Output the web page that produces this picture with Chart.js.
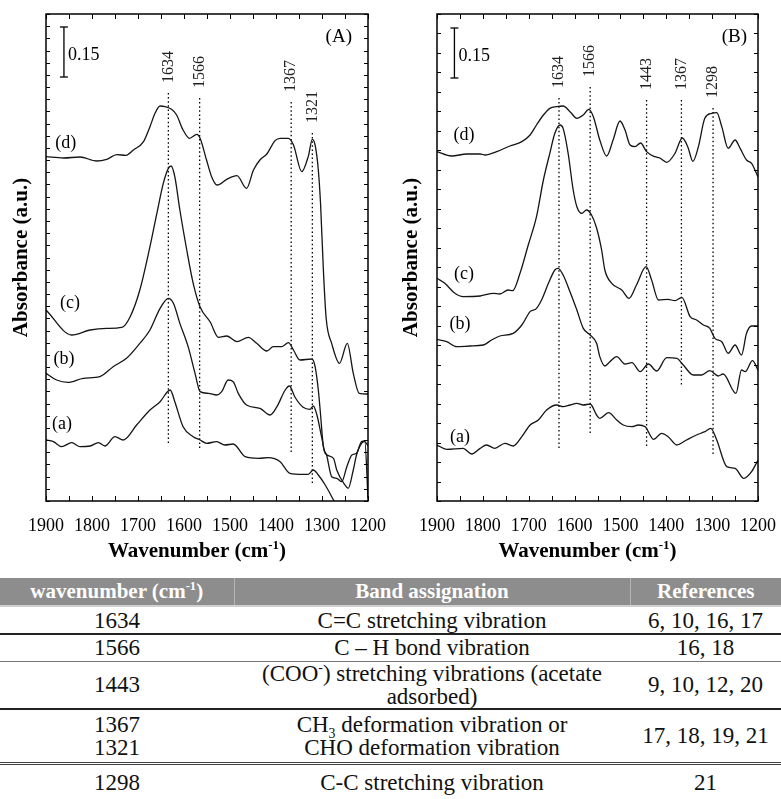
<!DOCTYPE html>
<html>
<head>
<meta charset="utf-8">
<script src="https://cdn.jsdelivr.net/npm/chart.js@4.4.1/dist/chart.umd.min.js"></script>
<style>
  html, body { margin: 0; padding: 0; background: #fff; width: 781px; height: 799px; overflow: hidden; }
  #wrap { position: relative; width: 781px; height: 799px; font-family: 'Liberation Serif', 'Times New Roman', serif; }
  #chartA { position: absolute; left: 0; top: 0; }
  #chartB { position: absolute; left: 390px; top: 0; }
  #tbl { position: absolute; left: 0; top: 578px; width: 781px; border-collapse: collapse; table-layout: fixed; color: #111; }
  #tbl th { background: #8d8d8d; color: #fff; font-weight: bold; font-size: 21px; height: 27px; padding: 0; text-align: center; white-space: nowrap; }
  #tbl th + th { border-left: 1px solid #b5b5b5; }
  #tbl td { font-size: 23px; line-height: 23px; text-align: center; padding: 0; vertical-align: middle; white-space: nowrap; }
  #tbl sup, #tbl sub { font-size: 60%; line-height: 0; }
  #tbl thead tr { border-bottom: 2px solid #d0d0d0; }
  .r1 { height: 28px; border-bottom: 2px solid #222; }
  .r2 { height: 27px; border-bottom: 1px solid #777; }
  .r3 { height: 48px; border-bottom: 2px solid #222; }
  .r4 { height: 54px; border-bottom: 3px double #444; }
  .r5 { height: 37px; }
</style>
</head>
<body>
<div id="wrap">
  <canvas id="chartA" width="390" height="578"></canvas>
  <canvas id="chartB" width="391" height="578"></canvas>
  <table id="tbl">
    <colgroup><col style="width:234px"><col style="width:396px"><col style="width:151px"></colgroup>
    <thead><tr><th>wavenumber (cm<sup>-1</sup>)</th><th>Band assignation</th><th>References</th></tr></thead>
    <tbody>
      <tr class="r1"><td>1634</td><td>C=C stretching vibration</td><td>6, 10, 16, 17</td></tr>
      <tr class="r2"><td>1566</td><td>C &ndash; H bond vibration</td><td>16, 18</td></tr>
      <tr class="r3"><td>1443</td><td>(COO<sup>-</sup>) stretching vibrations (acetate<br>adsorbed)</td><td>9, 10, 12, 20</td></tr>
      <tr class="r4"><td>1367<br>1321</td><td>CH<sub>3</sub> deformation vibration or<br>CHO deformation vibration</td><td>17, 18, 19, 21</td></tr>
      <tr class="r5"><td>1298</td><td>C-C stretching vibration</td><td>21</td></tr>
    </tbody>
  </table>
</div>
<script>
// ---- axes ----
const WN_MIN = 1200, WN_MAX = 1900;
const xTickLabels = [1900, 1800, 1700, 1600, 1500, 1400, 1300, 1200];
const Y_MAX = 1.461;
const scaleBarValue = 0.15;

// ---- panel A : wavenumber / absorbance per spectrum ----
const wnAa = [1900,1884,1866,1844,1826,1804,1786,1772,1750,1732,1703,1674,1652,1630,1620,1602,1580,1565,1551,1529,1511,1493,1467,1438,1417,1391,1370,1341,1330,1319,1308,1293,1275,1261];
const absAa = [0.183,0.178,0.163,0.175,0.163,0.165,0.175,0.165,0.193,0.183,0.228,0.273,0.298,0.333,0.298,0.223,0.193,0.183,0.173,0.178,0.168,0.171,0.133,0.128,0.130,0.118,0.083,0.080,0.080,0.093,0.078,0.048,0.003,-0.033];

const wnAb = [1900,1877,1852,1819,1783,1754,1725,1696,1674,1652,1634,1623,1609,1591,1576,1565,1547,1529,1518,1504,1493,1482,1464,1435,1413,1398,1380,1371,1359,1341,1326,1319,1311,1301,1293,1275,1268,1250,1243,1232,1225,1214,1207,1200];
const absAb = [0.383,0.363,0.356,0.368,0.373,0.403,0.428,0.473,0.513,0.578,0.608,0.593,0.533,0.463,0.383,0.328,0.323,0.318,0.328,0.363,0.358,0.323,0.288,0.278,0.258,0.283,0.333,0.345,0.312,0.281,0.275,0.285,0.258,0.193,0.143,0.128,0.093,0.048,0.038,0.093,0.138,0.173,0.178,0.165];

const wnAc = [1900,1844,1804,1768,1735,1717,1696,1674,1659,1645,1634,1628,1620,1609,1594,1580,1565,1543,1525,1507,1485,1460,1442,1420,1406,1388,1373,1362,1348,1322,1315,1308,1304,1297,1290,1279,1268,1257,1246,1235,1225,1214,1207,1200];
const absAc = [0.573,0.498,0.513,0.518,0.521,0.553,0.633,0.763,0.863,0.953,0.998,1.005,0.973,0.873,0.753,0.653,0.582,0.537,0.491,0.495,0.478,0.491,0.473,0.450,0.463,0.463,0.475,0.453,0.423,0.426,0.403,0.333,0.273,0.163,0.138,0.073,0.068,0.058,0.103,0.138,0.143,0.178,0.180,0.009];

const wnAd = [1900,1862,1826,1790,1768,1746,1726,1710,1688,1674,1663,1652,1641,1627,1616,1602,1588,1572,1565,1551,1540,1528,1507,1485,1464,1449,1435,1420,1402,1391,1373,1362,1344,1330,1321,1315,1308,1303,1297,1291,1279,1262,1245,1232,1219,1203,1200];
const absAd = [1.033,1.029,1.032,1.020,1.025,1.039,1.037,1.053,1.078,1.123,1.163,1.185,1.183,1.175,1.158,1.113,1.088,1.100,1.088,1.023,0.973,0.948,0.965,0.976,0.938,0.993,1.023,1.041,1.081,1.088,1.088,1.068,0.988,1.033,1.085,1.068,0.993,0.888,0.693,0.549,0.473,0.413,0.473,0.383,0.323,0.321,0.321];

const bandsA = [1634, 1566, 1367, 1321];
const bandTopA = [1.224, 1.209, 1.197, 1.104];
const bandBottomA = [0.174, 0.159, 0.147, 0.054];

// ---- panel B ----
const wnBa = [1900,1879,1843,1824,1806,1792,1774,1752,1734,1715,1697,1679,1661,1639,1625,1610,1595,1581,1566,1552,1545,1526,1508,1494,1475,1461,1446,1428,1410,1396,1377,1356,1334,1316,1303,1290,1268,1250,1231,1214,1200];
const absBa = [0.168,0.155,0.158,0.141,0.158,0.168,0.158,0.173,0.165,0.193,0.228,0.243,0.273,0.288,0.283,0.288,0.293,0.288,0.291,0.258,0.248,0.265,0.243,0.228,0.223,0.228,0.223,0.185,0.203,0.193,0.168,0.183,0.198,0.208,0.218,0.183,0.103,0.098,0.068,0.088,0.123];

const wnBb = [1900,1879,1857,1828,1799,1781,1763,1734,1715,1697,1683,1672,1657,1643,1636,1625,1610,1595,1581,1566,1552,1545,1534,1523,1508,1490,1475,1457,1439,1421,1399,1377,1363,1341,1323,1305,1287,1276,1248,1236,1228,1212,1200];
const absBb = [0.485,0.478,0.463,0.465,0.468,0.483,0.495,0.503,0.528,0.568,0.578,0.603,0.653,0.693,0.698,0.678,0.628,0.573,0.518,0.498,0.473,0.433,0.405,0.418,0.433,0.411,0.415,0.388,0.411,0.390,0.430,0.428,0.408,0.378,0.378,0.391,0.375,0.381,0.323,0.393,0.388,0.421,0.393];

const wnBc = [1900,1883,1861,1843,1806,1777,1763,1745,1735,1719,1701,1683,1668,1654,1643,1632,1625,1614,1603,1595,1584,1574,1563,1552,1541,1534,1519,1497,1481,1465,1444,1432,1417,1396,1381,1366,1348,1334,1319,1305,1294,1279,1265,1250,1236,1225,1214,1200];
const absBc = [0.668,0.653,0.623,0.613,0.615,0.623,0.621,0.633,0.631,0.683,0.768,0.853,0.963,1.043,1.103,1.128,1.118,1.043,0.933,0.883,0.863,0.873,0.858,0.819,0.753,0.693,0.653,0.633,0.608,0.648,0.703,0.663,0.603,0.605,0.601,0.611,0.553,0.543,0.528,0.518,0.488,0.478,0.443,0.468,0.438,0.503,0.525,0.525];

const wnBd = [1900,1868,1835,1806,1795,1770,1741,1715,1697,1683,1668,1654,1639,1625,1610,1595,1581,1569,1559,1545,1530,1516,1501,1490,1479,1468,1456,1443,1425,1414,1399,1381,1365,1353,1342,1330,1316,1301,1290,1279,1265,1250,1239,1225,1214,1200];
const absBd = [1.048,1.035,1.041,1.041,1.038,1.048,1.065,1.078,1.098,1.128,1.158,1.178,1.183,1.185,1.168,1.148,1.158,1.175,1.153,1.083,1.035,1.083,1.140,1.113,1.068,1.063,1.074,1.048,1.033,1.029,1.016,1.043,1.089,1.062,1.019,1.063,1.148,1.163,1.165,1.123,1.058,1.083,1.058,1.023,1.013,0.972];

const bandsB = [1634, 1566, 1443, 1367, 1298];
const bandTopB = [1.209, 1.242, 1.203, 1.203, 1.179];
const bandBottomB = [0.159, 0.198, 0.159, 0.348, 0.138];

Chart.defaults.font.family = "'Liberation Serif', 'Times New Roman', serif";
Chart.defaults.color = '#000';

const pts = (xs, ys) => xs.map((x, i) => ({ x, y: ys[i] }));

// frame, inward ticks, x title and text annotations
const inkPlugin = {
  id: 'ink',
  afterDraw(chart, args, o) {
    const { ctx, chartArea: a, scales: { x, y } } = chart;
    ctx.save();
    ctx.strokeStyle = '#000';
    ctx.lineWidth = 1;
    ctx.beginPath();
    x.ticks.forEach(t => {
      const px = Math.round(x.getPixelForValue(t.value)) + 0.5;
      ctx.moveTo(px, a.bottom); ctx.lineTo(px, a.bottom - 5);
      ctx.moveTo(px, a.top); ctx.lineTo(px, a.top + 5);
    });
    y.ticks.forEach(t => {
      const py = Math.round(y.getPixelForValue(t.value)) + 0.5;
      ctx.moveTo(a.left, py); ctx.lineTo(a.left + 4, py);
      ctx.moveTo(a.right, py); ctx.lineTo(a.right - 4, py);
    });
    ctx.stroke();
    ctx.lineWidth = 1.5;
    ctx.strokeRect(a.left, a.top, a.right - a.left, a.bottom - a.top);

    // x title with superscript
    const cx = (a.left + a.right) / 2 - 10, base = 557;
    const main = 'Wavenumber (cm', sup = '-1', tail = ')';
    ctx.fillStyle = '#000';
    ctx.textBaseline = 'alphabetic';
    ctx.textAlign = 'left';
    ctx.font = "bold 21px 'Liberation Serif', serif";
    const w1 = ctx.measureText(main).width, w3 = ctx.measureText(tail).width;
    ctx.font = "bold 13px 'Liberation Serif', serif";
    const w2 = ctx.measureText(sup).width;
    let sx = cx - (w1 + w2 + w3) / 2;
    ctx.font = "bold 21px 'Liberation Serif', serif";
    ctx.fillText(main, sx, base);
    ctx.font = "bold 13px 'Liberation Serif', serif";
    ctx.fillText(sup, sx + w1, base - 8);
    ctx.font = "bold 21px 'Liberation Serif', serif";
    ctx.fillText(tail, sx + w1 + w2, base);

    // spectrum labels
    ctx.font = "18px 'Liberation Serif', serif";
    ctx.textAlign = 'center';
    ctx.textBaseline = 'middle';
    o.curveLabels.forEach(l => ctx.fillText(l.text, x.getPixelForValue(l.x), y.getPixelForValue(l.y)));

    // band labels, rotated above the dotted lines
    ctx.font = "16px 'Liberation Serif', serif";
    ctx.fillStyle = '#222';
    o.bands.forEach((b, i) => {
      ctx.save();
      ctx.translate(x.getPixelForValue(b), y.getPixelForValue(o.bandTop[i]) - 10);
      ctx.rotate(-Math.PI / 2);
      ctx.textAlign = 'left';
      ctx.fillText(String(b), 0, 0);
      ctx.restore();
    });

    // scale bar label and panel letter
    ctx.fillStyle = '#000';
    ctx.font = "18px 'Liberation Serif', serif";
    ctx.textAlign = 'left';
    const barMid = y.getPixelForValue(o.barTop - scaleBarValue / 2);
    ctx.fillText(String(scaleBarValue), x.getPixelForValue(o.barX) + 4, barMid + 3);
    ctx.font = "19px 'Liberation Serif', serif";
    ctx.textAlign = 'right';
    ctx.fillText(o.letter, a.right - o.letterInset, a.top + 23);
    ctx.restore();
  }
};

function makePanel(id, curves, bands, bandTop, bandBottom, o) {
  const datasets = curves.map(c => ({
    data: pts(c[0], c[1]),
    borderColor: '#151515',
    borderWidth: 1.3,
    pointRadius: 0,
    cubicInterpolationMode: 'monotone'
  }));
  bands.forEach((b, i) => datasets.push({
    data: [{ x: b, y: bandTop[i] }, { x: b, y: bandBottom[i] }],
    borderColor: '#000',
    borderWidth: 1.3,
    borderDash: [1.5, 2.6],
    pointRadius: 0,
    tension: 0
  }));
  datasets.push({
    data: [{ x: o.barX, y: o.barTop }, { x: o.barX, y: o.barTop - scaleBarValue }],
    borderColor: '#000',
    borderWidth: 1.3,
    tension: 0,
    pointStyle: 'line',
    pointRadius: 4,
    pointBorderWidth: 1.3,
    pointBorderColor: '#000'
  });

  new Chart(document.getElementById(id).getContext('2d'), {
    type: 'line',
    data: { datasets },
    plugins: [inkPlugin],
    options: {
      responsive: false,
      animation: false,
      layout: { padding: { top: 14, right: o.rightPad, left: 0, bottom: 0 } },
      plugins: {
        legend: { display: false },
        tooltip: { enabled: false },
        ink: { curveLabels: o.curveLabels, bands, bandTop, barX: o.barX, barTop: o.barTop, letter: o.letter, letterInset: o.letterInset }
      },
      scales: {
        x: {
          type: 'linear',
          reverse: true,
          min: WN_MIN,
          max: WN_MAX,
          grid: { display: false, drawTicks: false },
          border: { display: false },
          afterBuildTicks: s => {
            const t = [];
            for (let v = WN_MIN; v <= WN_MAX; v += 50) t.push({ value: v });
            s.ticks = t;
          },
          ticks: {
            autoSkip: false,
            maxRotation: 0,
            padding: 14,
            font: { size: 18 },
            callback: v => xTickLabels.includes(v) ? String(v) : ''
          },
          afterFit: s => { s.height = 77; }
        },
        y: {
          type: 'linear',
          min: 0,
          max: Y_MAX,
          grid: { display: false, drawTicks: false },
          border: { display: false },
          ticks: { display: false },
          afterBuildTicks: s => {
            const t = [];
            for (let k = 0; k <= o.yDivisions; k++) t.push({ value: Y_MAX * k / o.yDivisions });
            s.ticks = t;
          },
          title: { display: true, text: 'Absorbance (a.u.)', font: { size: 21, weight: 'bold' }, padding: { top: 9, bottom: 0 } },
          afterFit: s => { s.width = o.leftW; }
        }
      }
    }
  });
}

makePanel('chartA',
  [[wnAa, absAa], [wnAb, absAb], [wnAc, absAc], [wnAd, absAd]],
  bandsA, bandTopA, bandBottomA,
  {
    leftW: 46, rightPad: 22, yDivisions: 40, barX: 1861, barTop: 1.422, letter: '(A)', letterInset: 16,
    curveLabels: [
      { text: '(a)', x: 1865, y: 0.230 },
      { text: '(b)', x: 1861, y: 0.425 },
      { text: '(c)', x: 1848, y: 0.593 },
      { text: '(d)', x: 1857, y: 1.074 }
    ]
  });

makePanel('chartB',
  [[wnBa, absBa], [wnBb, absBb], [wnBc, absBc], [wnBd, absBd]],
  bandsB, bandTopB, bandBottomB,
  {
    leftW: 47, rightPad: 23, yDivisions: 25, barX: 1862, barTop: 1.419, letter: '(B)', letterInset: 11,
    curveLabels: [
      { text: '(a)', x: 1850, y: 0.191 },
      { text: '(b)', x: 1850, y: 0.530 },
      { text: '(c)', x: 1841, y: 0.680 },
      { text: '(d)', x: 1841, y: 1.097 }
    ]
  });
</script>
</body>
</html>
